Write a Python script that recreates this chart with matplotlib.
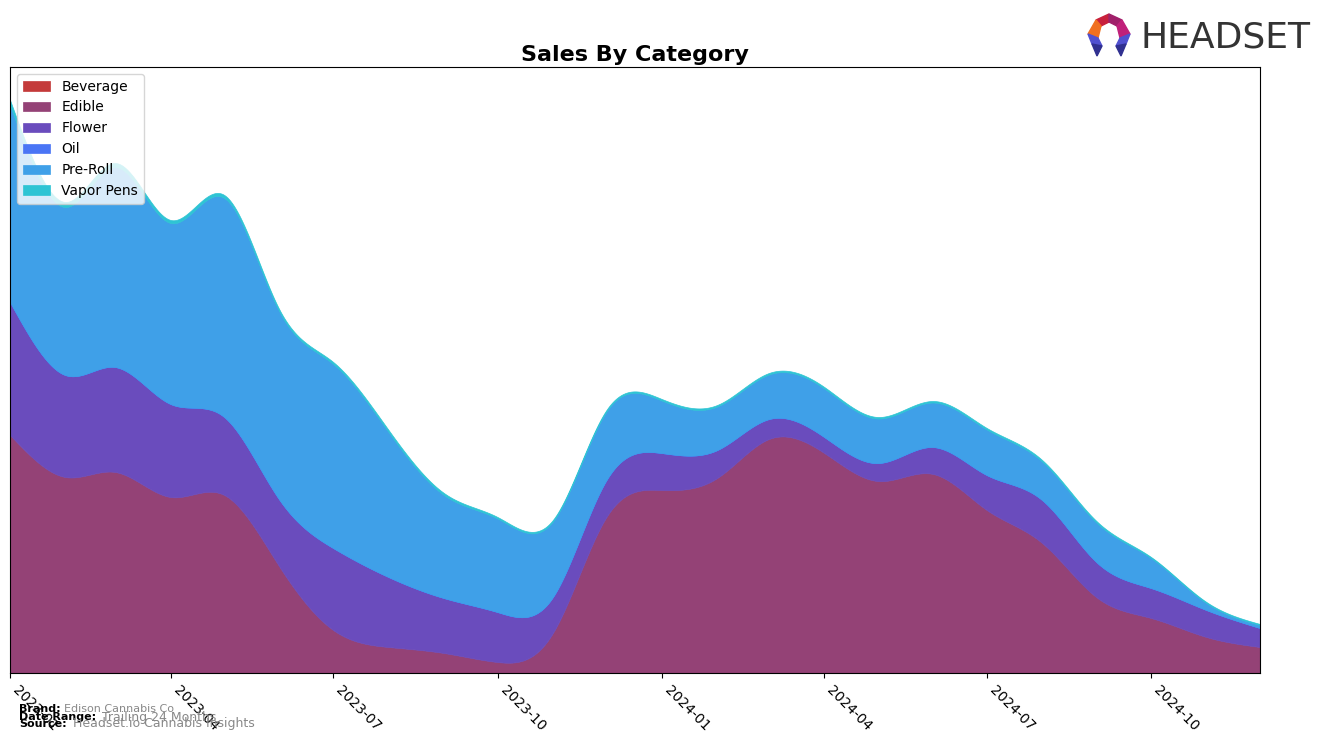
import numpy as np
import pandas as pd
import matplotlib
matplotlib.use("Agg")
import matplotlib.pyplot as plt
import matplotlib.dates as mdates
from matplotlib.patches import Polygon

# ---------------- data (monthly) ----------------
months = pd.date_range("2023-01-01", "2024-12-01", freq="MS")
categories = ["Beverage", "Edible", "Flower", "Oil", "Pre-Roll", "Vapor Pens"]
beverage = [0] * 24
edible = [238, 196, 201, 176, 178, 106, 43, 26, 20, 11, 40, 156,
          183, 195, 234, 220, 192, 199, 163, 130, 75, 55, 36, 26]
flower = [133, 102, 105, 93, 78, 67, 82, 70, 55, 50, 36, 37,
          37, 28, 20, 16, 18, 27, 35, 43, 35, 30, 27, 19]
oil = [0] * 24
preroll = [197, 168, 200, 181, 219, 188, 184, 145, 103, 93.5, 75.5, 68.5,
           52.5, 43.5, 44.5, 48.5, 44.5, 44.5, 45.5, 38.5, 39.5, 30, 7, 3]
vapor = [5, 5, 4, 3, 3, 2, 2, 2, 2, 1.5, 1.5, 1.5,
         1.5, 1.5, 1.5, 1.5, 1.5, 1.5, 1.5, 1.5, 1.5, 1, 1, 1]
colors = ["#c43a3a", "#944276", "#6a4cbd", "#4a75f5", "#3fa0e8", "#2ec4d4"]
tick_labels = ["2023-01", "2023-04", "2023-07", "2023-10",
               "2024-01", "2024-04", "2024-07", "2024-10"]


def natural_spline(x, y, xs):
    x = np.asarray(x, float)
    y = np.asarray(y, float)
    n = len(x)
    h = np.diff(x)
    A = np.zeros((n, n))
    b = np.zeros(n)
    A[0, 0] = 1
    A[-1, -1] = 1
    for i in range(1, n - 1):
        A[i, i - 1] = h[i - 1]
        A[i, i] = 2 * (h[i - 1] + h[i])
        A[i, i + 1] = h[i]
        b[i] = 3 * ((y[i + 1] - y[i]) / h[i] - (y[i] - y[i - 1]) / h[i - 1])
    c = np.linalg.solve(A, b)
    idx = np.clip(np.searchsorted(x, xs) - 1, 0, n - 2)
    dx = xs - x[idx]
    hi = h[idx]
    bb = (y[idx + 1] - y[idx]) / hi - hi * (2 * c[idx] + c[idx + 1]) / 3
    d = (c[idx + 1] - c[idx]) / (3 * hi)
    return y[idx] + bb * dx + c[idx] * dx ** 2 + d * dx ** 3


xnum = mdates.date2num(months)
xs = np.linspace(xnum[0], xnum[-1], 800)
series = [beverage, edible, flower, oil, preroll, vapor]
smooth = [np.clip(natural_spline(xnum, s, xs), 0, None) for s in series]

fig = plt.figure(figsize=(13.24, 7.43), dpi=100)
ax = fig.add_axes([10 / 1324, 1 - 673 / 743, 1250 / 1324, 606 / 743])
ax.stackplot(xs, *smooth, labels=categories, colors=colors, alpha=1,
             linewidth=0.5, edgecolor="face")
ax.set_xlim(xnum[0], xnum[-1])
ax.set_ylim(0, 606)
ax.set_yticks([])
tick_pos = mdates.date2num(pd.to_datetime(tick_labels))
ax.set_xticks(tick_pos)
ax.set_xticklabels(tick_labels, rotation=-45, ha="left", fontsize=10)
ax.set_title("Sales By Category", fontsize=16, fontweight="bold", pad=4)
ax.legend(loc="upper left", fontsize=10)

# footer
fig.text(19 / 1324, 1 - 709 / 743, "Brand:", fontsize=8, fontweight="bold", va="center")
fig.text(64 / 1324, 1 - 709 / 743, "Edison Cannabis Co", fontsize=8, color="#888888", va="center")
fig.text(19 / 1324, 1 - 717 / 743, "Date Range:", fontsize=8, fontweight="bold", va="center")
fig.text(102 / 1324, 1 - 717 / 743, "Trailing 24 Months", fontsize=9, color="#888888", va="center")
fig.text(19 / 1324, 1 - 724 / 743, "Source:", fontsize=8, fontweight="bold", va="center")
fig.text(73 / 1324, 1 - 724 / 743, "Headset.io Cannabis Insights", fontsize=9, color="#888888", va="center")

# logo
fig.text(1141 / 1324, 1 - 37 / 743, "HEADSET", fontsize=26,
         color="#333333", va="center", ha="left", family="DejaVu Sans")
lax = fig.add_axes([1084 / 1324, 1 - 60 / 743, 50 / 1324, 48 / 743])
lax.set_xlim(0, 50)
lax.set_ylim(0, 48)
lax.axis("off")
polys = [
    ([(12, 40), (25, 46), (25, 38), (17, 34)], "#c8203c"),
    ([(25, 46), (38, 40), (33, 34), (25, 38)], "#a0206a"),
    ([(12, 40), (17, 34), (14, 22), (4, 26)], "#f07020"),
    ([(38, 40), (46, 26), (36, 22), (33, 34)], "#c0207a"),
    ([(4, 26), (14, 22), (18, 14), (8, 16)], "#5050d0"),
    ([(8, 16), (18, 14), (13, 4)], "#303090"),
    ([(46, 26), (36, 22), (32, 14), (42, 16)], "#5050d0"),
    ([(42, 16), (32, 14), (37, 4)], "#303090"),
]
for pts, c in polys:
    lax.add_patch(Polygon(pts, closed=True, color=c))

fig.savefig("out.png", dpi=100)
